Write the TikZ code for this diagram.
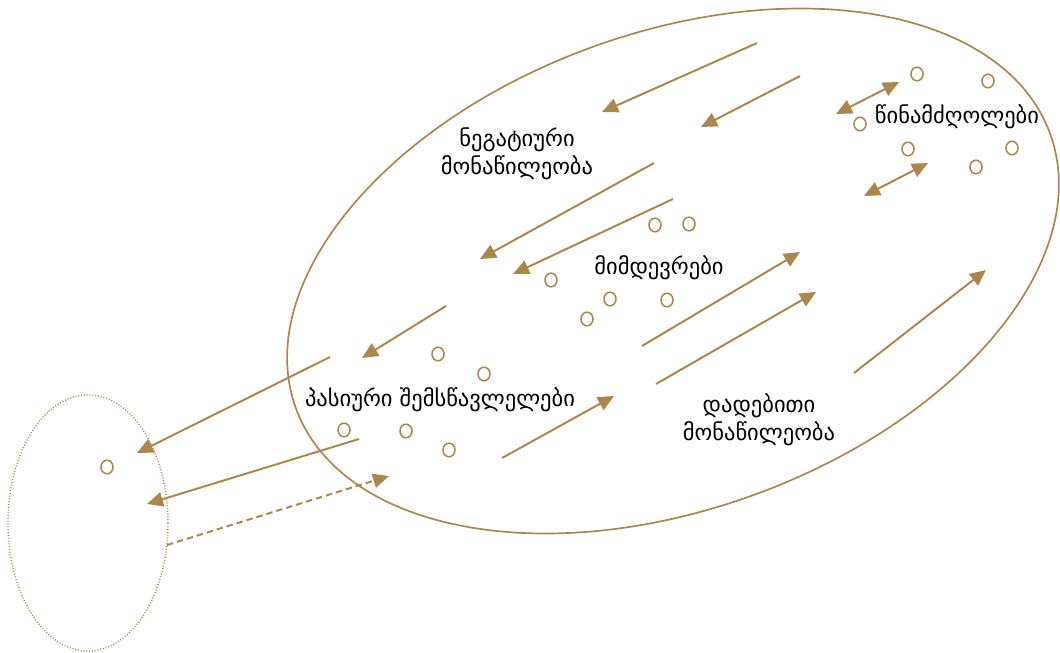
\documentclass[tikz,border=0pt]{standalone}
\usepackage{fontspec}
\newfontfamily\geo{DejaVu Sans}
\usetikzlibrary{arrows.meta,shapes.geometric}
\definecolor{gold}{RGB}{172,135,75}
\begin{document}
\begin{tikzpicture}[x=0.025cm,y=-0.025cm,
  lbl/.style={font=\geo\fontsize{16}{20}\selectfont,text=black,align=center,inner sep=0pt},
  dot/.style={draw=gold,line width=1.1pt,ellipse,minimum width=0.3cm,minimum height=0.34cm,inner sep=0pt},
  arr/.style={draw=gold,line width=1.4pt,-{Triangle[length=0.4cm,width=0.36cm]},color=gold},
  darr/.style={draw=gold,line width=1.4pt,{Triangle[length=0.4cm,width=0.36cm]}-{Triangle[length=0.4cm,width=0.36cm]},color=gold},
  dsh/.style={arr,dash pattern=on 0.16cm off 0.1cm}]
\useasboundingbox (0,0) rectangle (1060,652);
% ellipses
\coordinate (E) at (673,271);
\draw[gold,line width=1.2pt,rotate around={20:(E)}] (E) ellipse [x radius=10.03cm,y radius=5.95cm];
\coordinate (S) at (88,523);
\draw[gold,line width=1pt,dash pattern=on 0.7pt off 1.3pt] (S) ellipse [x radius=2cm,y radius=3.2cm];
% labels
\node[lbl] (neg) at (517,154) {ნეგატიური\\მონაწილეობა};
\node[lbl] (fol) at (659,268) {მიმდევრები};
\node[lbl] (pas) at (440,400) {პასიური შემსწავლელები};
\node[lbl] (lead) at (957,117) {წინამძღოლები};
\node[lbl] (pos) at (759,420) {დადებითი\\მონაწილეობა};
% dots
\foreach \n/\p in {c1/{(917,74)},c2/{(988,81)},c3/{(860,124)},c4/{(908,149)},c5/{(1012,148)},c6/{(976,167)},
  c7/{(655,225)},c8/{(689,224)},c9/{(551,280)},c10/{(610,299)},c11/{(667,300)},c12/{(587,319)},
  c13/{(438,354)},c14/{(484,374)},c15/{(344,430)},c16/{(406,431)},c17/{(449,450)},c18/{(107,467)}}
  \node[dot] (\n) at \p {};
% arrow endpoints
\coordinate (a1s) at (757,43);  \coordinate (a1e) at (602,112);
\coordinate (a2s) at (800,76);  \coordinate (a2e) at (701,127);
\coordinate (a3s) at (654,163); \coordinate (a3e) at (480,259);
\coordinate (a4s) at (673,199); \coordinate (a4e) at (513,274);
\coordinate (a5s) at (446,306); \coordinate (a5e) at (362,358);
\coordinate (a6s) at (330,357); \coordinate (a6e) at (137,453);
\coordinate (a7s) at (359,439); \coordinate (a7e) at (147,504);
\coordinate (a8s) at (167,545); \coordinate (a8e) at (389,476);
\coordinate (a9s) at (502,458); \coordinate (a9e) at (614,396);
\coordinate (a10s) at (642,346); \coordinate (a10e) at (800,252);
\coordinate (a11s) at (656,384); \coordinate (a11e) at (816,292);
\coordinate (a12s) at (854,373); \coordinate (a12e) at (986,270);
\coordinate (a13s) at (836,114); \coordinate (a13e) at (899,82);
\coordinate (a14s) at (864,196); \coordinate (a14e) at (928,163);
\foreach \i in {1,2,3,4,5,6,7,9,10,11,12}
  \draw[arr] (a\i s) -- (a\i e);
\draw[dsh] (a8s) -- (a8e);
\draw[darr] (a13s) -- (a13e);
\draw[darr] (a14s) -- (a14e);
\end{tikzpicture}
\end{document}
